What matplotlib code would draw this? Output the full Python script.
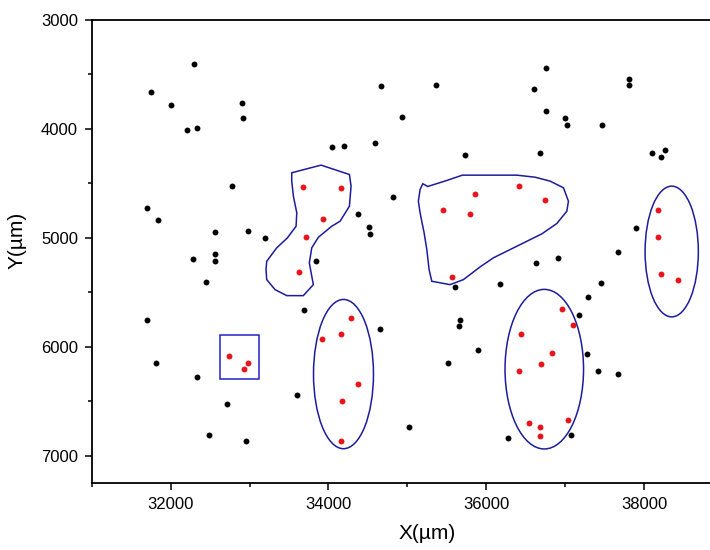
from matplotlib import pyplot as plt
from matplotlib.patches import Ellipse, Rectangle, Polygon

plt.rcParams['font.family'] = ['Liberation Sans', 'DejaVu Sans']

# black particles (x, y in um)
black_x = [32290, 31750, 32000, 32905, 32920, 32205, 32330, 34045, 34195, 32780,
           31705, 31845, 32560, 32985, 33195, 32285, 32560, 32560, 33840, 34375,
           32445, 34670, 35365, 36760, 36610, 37805, 37805, 34935, 36755, 37000,
           37025, 37470, 34590, 35725, 36685, 38100, 38265, 38210, 34820, 34515,
           34525, 37900, 37665, 36635, 36910, 31695, 33695, 31810, 32330, 32710,
           33600, 32490, 32955, 35600, 36175, 37455, 37285, 37170, 34650, 35665,
           35655, 35900, 35510, 37280, 37415, 37665, 35020, 36275, 37075]
black_y = [3400, 3665, 3780, 3760, 3895, 4005, 3990, 4165, 4160, 4520,
           4730, 4840, 4950, 4935, 5005, 5190, 5145, 5210, 5210, 4785,
           5405, 3610, 3600, 3445, 3630, 3545, 3595, 3890, 3835, 3900,
           3965, 3960, 4130, 4235, 4220, 4225, 4195, 4260, 4620, 4900,
           4965, 4905, 5125, 5230, 5185, 5755, 5660, 6150, 6275, 6525,
           6440, 6805, 6860, 5450, 5425, 5410, 5540, 5705, 5840, 5755,
           5810, 6030, 6150, 6065, 6220, 6245, 6740, 6840, 6805]

# red particles (inside clusters)
red_x = [33680, 34155, 33930, 33710, 33625, 35860, 36420, 35455, 35795, 36750,
         35560, 38180, 38175, 38210, 38435, 32740, 32975, 32925, 34285, 34155,
         33915, 34370, 34175, 34155, 36960, 37100, 36440, 36830, 36695, 36410,
         36535, 36680, 36680, 37030]
red_y = [4530, 4545, 4825, 4990, 5310, 4600, 4520, 4740, 4780, 4655,
         5360, 4745, 4990, 5330, 5390, 6080, 6150, 6205, 5735, 5885,
         5930, 6340, 6495, 6860, 5650, 5795, 5880, 6055, 6155, 6220,
         6700, 6740, 6815, 6670]

# cluster outlines
ellipses = [(34190, 6250, 760, 1370), (36735, 6205, 995, 1465), (38350, 5125, 675, 1200)]
rect = (32625, 5895, 500, 400)
blob_1 = [(33534, 4402), (33906, 4332), (34265, 4418), (34286, 4525), (34265, 4709),
          (34147, 4847), (34041, 4893), (33872, 4994), (33788, 5091), (33757, 5229),
          (33788, 5352), (33808, 5429), (33681, 5530), (33471, 5530), (33323, 5475),
          (33217, 5383), (33208, 5291), (33217, 5215), (33344, 5091), (33479, 5000),
          (33589, 4893), (33598, 4770), (33555, 4617), (33534, 4479)]
blob_2 = [(35195, 4503), (35258, 4528), (35499, 4473), (35697, 4424), (36387, 4424),
          (36619, 4443), (36809, 4479), (36978, 4540), (37041, 4663), (37021, 4755),
          (36894, 4868), (36704, 4963), (36514, 5031), (36302, 5107), (36090, 5183),
          (35922, 5266), (35710, 5383), (35541, 5429), (35309, 5398), (35275, 5291),
          (35246, 5107), (35212, 4954), (35161, 4770), (35139, 4663), (35161, 4556)]

blue = '#1c1c9c'

fig = plt.figure(figsize=(7.1, 5.5), dpi=100)
ax = fig.add_axes([0.1293, 0.1218, 0.889, 0.8418])

for cx, cy, w, h in ellipses:
    ax.add_patch(Ellipse((cx, cy), w, h, fill=False, ec=blue, lw=1.1))
ax.add_patch(Rectangle((rect[0], rect[1]), rect[2], rect[3], fill=False, ec='#2323c8', lw=1.1))
ax.add_patch(Polygon(blob_1, closed=True, fill=False, ec=blue, lw=1.1))
ax.add_patch(Polygon(blob_2, closed=True, fill=False, ec=blue, lw=1.1))

ax.scatter(black_x, black_y, s=18, c='black', lw=0, zorder=3)
ax.scatter(red_x, red_y, s=18, c='#e8141a', lw=0, zorder=3)

ax.set_xlim(31000, 39000)
ax.set_ylim(7250, 3000)
ax.set_xticks([32000, 34000, 36000, 38000])
ax.set_xticks([31000, 33000, 35000, 37000, 39000], minor=True)
ax.set_yticks([3000, 4000, 5000, 6000, 7000])
ax.set_yticks([3500, 4500, 5500, 6500], minor=True)
ax.tick_params(which='major', length=5, width=1.1, labelsize=12, pad=5)
ax.tick_params(which='minor', length=3, width=1.1)
for sp in ax.spines.values():
    sp.set_linewidth(1.3)

ax.set_xlabel('X(µm)', fontsize=15)
ax.set_ylabel('Y(µm)', fontsize=15)
ax.xaxis.set_label_coords(0.532, -0.088)
ax.yaxis.set_label_coords(-0.104, 0.525)

plt.savefig('out.png', dpi=100)
